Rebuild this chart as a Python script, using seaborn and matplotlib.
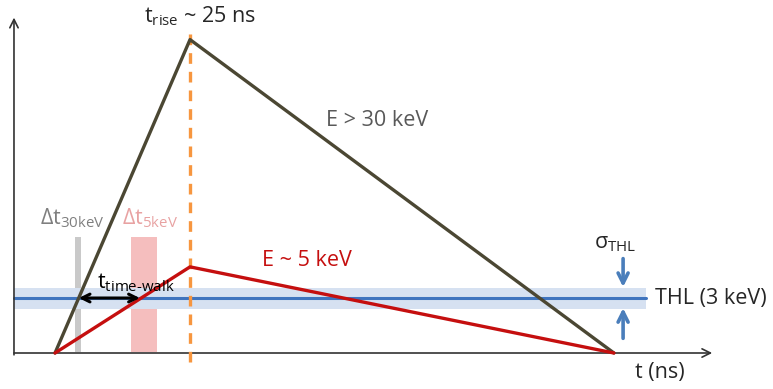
import matplotlib
matplotlib.use("Agg")
import matplotlib.pyplot as plt
import seaborn as sns
import pandas as pd
import numpy as np

# ---- data (time in ns, amplitude in keV-like units) ----
pulse_time = [0, 25, 103.5]
pulse_high = [0, 17.1, 0]      # E > 30 keV
pulse_low = [0, 4.7, 0]        # E ~ 5 keV
thl_level = 3.0
thl_sigma_band = [2.4, 3.55]
t_rise = 25
dt30_band = [3.7, 4.8]
dt5_band = [14.1, 18.9]
band_height = [0.05, 6.33]
walk_start, walk_end = 4.4, 15.7

sns.set_theme(style="white")
plt.rcParams["font.family"] = ["Open Sans", "DejaVu Sans"]
plt.rcParams["mathtext.fontset"] = "custom"
plt.rcParams["mathtext.rm"] = "Open Sans"
plt.rcParams["mathtext.it"] = "Open Sans"

fig = plt.figure(figsize=(7.73, 3.89), dpi=100)
ax = fig.add_axes([0, 0, 1, 1])
ax.set_xlim(-10.19, 132.96)
ax.set_ylim(-1.964, 19.26)
ax.axis("off")

def arrow(start, end, style, color, lw, ms, z):
    ax.annotate("", xy=end, xytext=start,
                arrowprops=dict(arrowstyle=style, color=color, lw=lw, mutation_scale=ms,
                                shrinkA=0, shrinkB=0), zorder=z)

# bands
ax.fill_between(dt30_band, band_height[0], band_height[1], color="#c9c9c9", lw=0, zorder=1)
ax.fill_between(dt5_band, band_height[0], band_height[1], color="#f2a9a9", alpha=0.75, lw=0, zorder=1)
ax.fill_between([-7.6, 109.4], thl_sigma_band[0], thl_sigma_band[1], color="#d6e1f1", lw=0, zorder=2)
ax.plot([-7.6, 109.4], [thl_level, thl_level], color="#3f74be", lw=2.2, zorder=3)

# axes arrows
arrow((-7.6, -0.1), (-7.6, 18.3), "->", "#333333", 1.2, 15, 4)
arrow((-7.6, 0), (121.7, 0), "->", "#333333", 1.2, 15, 4)

# pulses
df = pd.DataFrame({"t": pulse_time * 2,
                   "amp": pulse_high + pulse_low,
                   "E": ["E > 30 keV"] * 3 + ["E ~ 5 keV"] * 3})
sns.lineplot(data=df, x="t", y="amp", hue="E", palette={"E > 30 keV": "#4b4733", "E ~ 5 keV": "#c50f0f"},
             lw=2.4, legend=False, ax=ax, zorder=5, sort=False)

# t_rise dashed line
ax.plot([t_rise, t_rise], [-0.5, 17.6], color="#f7963f", lw=2.4, ls=(0, (3.2, 2.4)), zorder=4)

# time-walk arrow
arrow((walk_start, thl_level), (walk_end, thl_level), "<->", "black", 2.2, 14, 6)

# sigma arrows
arrow((105.2, 5.15), (105.2, 3.6), "->", "#4a7ebb", 2.6, 18, 6)
arrow((105.2, 0.8), (105.2, 2.45), "->", "#4a7ebb", 2.6, 18, 6)

fs = 15.5
ax.text(26.85, 18.4, r"t$_{\mathrm{rise}}$ ~ 25 ns", fontsize=fs, color="#262626", ha="center", va="center")
ax.text(59.6, 12.7, "E > 30 keV", fontsize=fs, color="#595959", ha="center", va="center")
ax.text(46.6, 5.07, "E ~ 5 keV", fontsize=fs, color="#c50f0f", ha="center", va="center")
ax.text(3.3, 7.36, r"Δt$_{\mathrm{30keV}}$", fontsize=fs, color="#7f7f7f", ha="center", va="center")
ax.text(17.6, 7.36, r"Δt$_{\mathrm{5keV}}$", fontsize=fs, color="#e8a2a2", ha="center", va="center")
ax.text(15.0, 3.82, r"t$_{\mathrm{time\text{-}walk}}$", fontsize=fs, color="black", ha="center", va="center", zorder=7)
ax.text(103.7, 6.0, r"σ$_{\mathrm{THL}}$", fontsize=fs, color="#262626", ha="center", va="center")
ax.text(111.1, 3.0, "THL (3 keV)", fontsize=fs, color="#262626", ha="left", va="center")
ax.text(112, -1.04, "t (ns)", fontsize=fs, color="#262626", ha="center", va="center")

fig.savefig("out.png", dpi=100)
